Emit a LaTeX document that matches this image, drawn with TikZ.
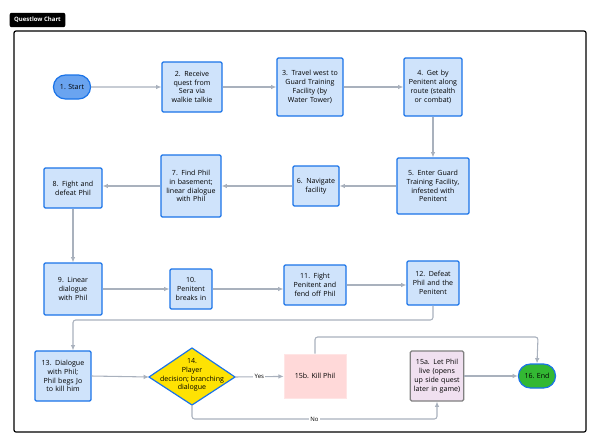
\documentclass[tikz,border=0pt]{standalone}
\usepackage{fontspec}
\setmainfont{Open Sans}
\usetikzlibrary{shapes.geometric,shapes.misc,arrows.meta}
\definecolor{bfill}{HTML}{CFE3FB}
\definecolor{bline}{HTML}{1A73E8}
\definecolor{arr}{HTML}{A9B1BD}
\hyphenpenalty=10000 \exhyphenpenalty=10000
\begin{document}
\begin{tikzpicture}[x=0.75pt,y=-0.75pt,
 fnt/.style={font=\fontsize{5.3}{6.6}\selectfont},
 box/.style={fnt,draw=bline,line width=0.9pt,fill=bfill,rounded corners=1pt,align=center,inner sep=1pt},
 term/.style={fnt,rounded rectangle,draw=bline,line width=0.9pt,minimum width=34.5pt,minimum height=18pt},
 conn/.style={draw=arr,line width=0.8pt,-{Latex[length=4pt,width=3.5pt]}},
 lab/.style={fill=white,inner sep=1pt,font=\fontsize{4.5}{5}\selectfont}]
\useasboundingbox (0,0) rectangle (600,447);
\node[fill=black,rounded corners=1.5pt,text=white,font=\fontsize{4.5}{5}\bfseries,minimum width=36pt,minimum height=10pt] (title) at (37.5,20) {Questlow Chart};
\draw[line width=0.9pt,rounded corners=1.5pt] (14,31) rectangle (586,432);
\node[term,fill=bline!65] (n1) at (72,87) {1. Start};
\node[box,minimum width=45pt,minimum height=37.5pt,text width=34pt] (n2) at (192,87) {2. Receive quest from Sera via walkie talkie};
\node[box,minimum width=49.5pt,minimum height=43.5pt,text width=44pt] (n3) at (310,87) {3. Travel west to Guard Training Facility (by Water Tower)};
\node[box,minimum width=43.5pt,minimum height=43.5pt,text width=40pt] (n4) at (433,87) {4. Get by Penitent along route (stealth or combat)};
\node[box,minimum width=54pt,minimum height=42pt,text width=48pt] (n5) at (433,186) {5. Enter Guard Training Facility, infested with Penitent};
\node[box,minimum width=34.5pt,minimum height=30pt,text width=30pt] (n6) at (316,186) {6. Navigate facility};
\node[box,minimum width=45pt,minimum height=46.5pt,text width=42pt] (n7) at (191,186) {7. Find Phil in basement;\\ linear dialogue with Phil};
\node[box,minimum width=43.5pt,minimum height=30pt,text width=38pt] (n8) at (73,188) {8. Fight and defeat Phil};
\node[box,minimum width=43.5pt,minimum height=39pt,text width=40pt] (n9) at (73,289) {9. Linear\\ dialogue with Phil};
\node[box,minimum width=31.5pt,minimum height=30pt,text width=28pt] (n10) at (191,289) {10. Penitent breaks in};
\node[box,minimum width=46.5pt,minimum height=30pt,text width=44pt] (n11) at (315,285) {11. Fight Penitent and fend off Phil};
\node[box,minimum width=39pt,minimum height=33pt,text width=36pt] (n12) at (433,283) {12. Defeat Phil and the Penitent};
\node[box,minimum width=40.5pt,minimum height=37.5pt,text width=40pt] (n13) at (63,376) {13. Dialogue with Phil; Phil begs Jo to kill him};
\coordinate (c14) at (192,375);
\draw[draw=bline,line width=0.9pt,fill=yellow!85!orange] (149,377) -- (192,348) -- (235,377) -- (192,405) -- cycle;
\node[fnt,align=center,inner sep=0pt] (n14) at (c14) {14.\\Player\\decision; branching\\dialogue};
\coordinate (d14e) at (235,377);
\coordinate (d14s) at (192,405);
\node[fnt,fill=red!15,draw=red!10,minimum width=46.5pt,minimum height=33pt] (n15b) at (315,376) {15b. Kill Phil};
\node[box,draw=gray,fill=violet!12,minimum width=39pt,minimum height=37.5pt,text width=38pt] (n15a) at (437,376) {15a. Let Phil live (opens up side quest later in game)};
\node[term,fill=green!65!black!80,minimum width=34.5pt] (n16) at (537,376) {16. End};
\draw[conn] (n1) -- (n2);
\draw[conn] (n2) -- (n3);
\draw[conn] (n3) -- (n4);
\draw[conn] (n4) -- (n5);
\draw[conn] (n5) -- (n6);
\draw[conn] (n6) -- (n7);
\draw[conn] (n7.west) -- (n8.east|-n7.west);
\draw[conn] (n8) -- (n9);
\draw[conn] (n9) -- (n10);
\draw[conn] (n10.east) -- (n11.west|-n10.east);
\draw[conn] (n11.east) -- (n12.west|-n11.east);
\draw[conn,rounded corners=2pt] (n12.south) |- (73,320) -- (n13.north-|73,0);
\draw[conn] (n13.east) -- (149,377);
\draw[conn] (d14e) -- node[lab]{Yes} (n15b);
\draw[conn,rounded corners=2pt] (n15b.north) |- (538,337) -- (n16.north);
\draw[conn] (n15a) -- (n16);
\draw[conn,rounded corners=2pt] (d14s) |- (437,419) node[lab,pos=0.75]{No} -- (n15a.south);
\end{tikzpicture}
\end{document}
